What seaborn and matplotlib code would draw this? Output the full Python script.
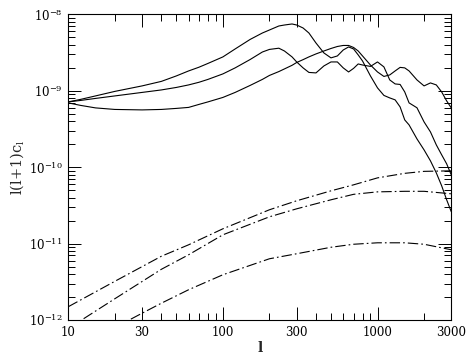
import numpy as np
import pandas as pd
import matplotlib
matplotlib.use("Agg")
import matplotlib.pyplot as plt
import matplotlib.ticker as mticker
import seaborn as sns

# multipoles shared by the solid curves
ell = [10, 12, 15, 20, 30, 40, 50, 60, 70, 80, 100, 120, 150, 180, 200, 230, 250, 280,
       300, 330, 360, 400, 450, 500, 550, 600, 650, 700, 750, 800, 900, 1000, 1100,
       1200, 1300, 1400, 1500, 1600, 1800, 2000, 2200, 2400, 2600, 2800, 3000]

cl_a = [7.14e-10, 7.70e-10, 8.55e-10, 9.80e-10, 1.156e-9, 1.325e-9, 1.562e-9, 1.815e-9,
        2.03e-9, 2.275e-9, 2.77e-9, 3.52e-9, 4.69e-9, 5.69e-9, 6.23e-9, 7.03e-9,
        7.24e-9, 7.47e-9, 7.24e-9, 6.62e-9, 5.69e-9, 4.21e-9, 3.12e-9, 2.69e-9,
        2.85e-9, 3.41e-9, 3.74e-9, 3.52e-9, 2.94e-9, 2.45e-9, 1.562e-9, 1.089e-9,
        8.68e-10, 8.05e-10, 7.59e-10, 6.14e-10, 4.15e-10, 3.57e-10, 2.34e-10,
        1.683e-10, 1.209e-10, 8.42e-11, 5.70e-11, 3.74e-11, 2.61e-11]

cl_b = [7.14e-10, 7.46e-10, 7.93e-10, 8.55e-10, 9.50e-10, 1.024e-9, 1.104e-9, 1.191e-9,
        1.29e-9, 1.406e-9, 1.66e-9, 1.99e-9, 2.56e-9, 3.21e-9, 3.47e-9, 3.60e-9,
        3.31e-9, 2.77e-9, 2.38e-9, 1.99e-9, 1.735e-9, 1.71e-9, 2.11e-9, 2.38e-9,
        2.38e-9, 1.99e-9, 1.76e-9, 1.96e-9, 2.24e-9, 2.17e-9, 2.08e-9, 2.38e-9,
        2.05e-9, 1.384e-9, 1.227e-9, 1.208e-9, 9.64e-10, 6.93e-10, 5.98e-10,
        3.91e-10, 2.89e-10, 1.957e-10, 1.449e-10, 1.105e-10, 7.92e-11]

cl_c = [6.93e-10, 6.43e-10, 5.96e-10, 5.69e-10, 5.61e-10, 5.69e-10, 5.87e-10, 6.05e-10,
        6.62e-10, 7.14e-10, 8.17e-10, 9.50e-10, 1.173e-9, 1.406e-9, 1.585e-9, 1.78e-9,
        1.928e-9, 2.15e-9, 2.34e-9, 2.55e-9, 2.77e-9, 3.03e-9, 3.31e-9, 3.57e-9,
        3.79e-9, 3.91e-9, 3.91e-9, 3.68e-9, 3.31e-9, 2.85e-9, 2.17e-9, 1.76e-9,
        1.538e-9, 1.609e-9, 1.815e-9, 2.02e-9, 1.99e-9, 1.815e-9, 1.384e-9,
        1.156e-9, 1.265e-9, 1.191e-9, 9.64e-10, 7.36e-10, 5.96e-10]

# dash-dot curves
ell_d = [10, 20, 40, 60, 100, 200, 300, 500, 700, 1000, 1500, 2000, 3000]
cl_d1 = [1.493e-12, 3.21e-12, 6.83e-12, 9.64e-12, 1.562e-11, 2.77e-11, 3.63e-11,
         4.90e-11, 5.87e-11, 7.24e-11, 8.30e-11, 8.81e-11, 8.95e-11]
cl_d2 = [7.74e-13, 1.898e-12, 4.61e-12, 7.14e-12, 1.303e-11, 2.24e-11, 2.85e-11,
         3.74e-11, 4.41e-11, 4.75e-11, 4.83e-11, 4.83e-11, 4.48e-11]
ell_d3 = [20, 25, 30, 40, 60, 100, 200, 300, 500, 700, 1000, 1500, 2000, 3000]
cl_d3 = [7.93e-13, 1.01e-12, 1.227e-12, 1.66e-12, 2.49e-12, 3.91e-12, 6.33e-12,
         7.36e-12, 8.95e-12, 9.80e-12, 1.024e-11, 1.024e-11, 9.80e-12, 8.30e-12]

x_ticks = [10, 30, 100, 300, 1000, 3000]

sns.set_theme(style="ticks")
plt.rcParams['font.family'] = ['DejaVu Serif']
plt.rcParams['mathtext.fontset'] = 'dejavuserif'
plt.rcParams['lines.scale_dashes'] = False

fig = plt.figure(figsize=(4.72, 3.59), dpi=100)
ax = fig.add_axes([0.1447, 0.1086, 0.8114, 0.8516])

for y in [cl_a, cl_b, cl_c]:
    sns.lineplot(x=ell, y=y, ax=ax, color='black', linewidth=0.8)

dashdot = (0, (7.5, 2.2, 1.2, 2.2))
sns.lineplot(x=ell_d, y=cl_d1, ax=ax, color='black', linewidth=0.8, linestyle=dashdot)
sns.lineplot(x=ell_d, y=cl_d2, ax=ax, color='black', linewidth=0.8, linestyle=dashdot)
sns.lineplot(x=ell_d3, y=cl_d3, ax=ax, color='black', linewidth=0.8, linestyle=dashdot)

ax.set_xscale('log')
ax.set_yscale('log')
ax.set_xlim(10, 3000)
ax.set_ylim(1e-12, 1e-8)

ax.xaxis.set_major_locator(mticker.FixedLocator(x_ticks))
ax.xaxis.set_major_formatter(mticker.FixedFormatter([str(t) for t in x_ticks]))
ax.xaxis.set_minor_locator(mticker.LogLocator(base=10, subs=np.arange(2, 10)))
ax.xaxis.set_minor_formatter(mticker.NullFormatter())
ax.yaxis.set_major_locator(mticker.LogLocator(base=10, numticks=10))
ax.yaxis.set_minor_locator(mticker.LogLocator(base=10, subs=np.arange(2, 10), numticks=10))
ax.yaxis.set_minor_formatter(mticker.NullFormatter())

ax.tick_params(which='both', direction='in', top=True, right=True, width=0.7,
               colors='black', labelsize=8.5)
ax.tick_params(which='major', length=9.4, pad=4)
ax.tick_params(which='minor', length=5)
for s in ax.spines.values():
    s.set_linewidth(0.8)
    s.set_color('black')

ax.set_xlabel('l', fontsize=10, fontweight='bold', labelpad=2)
ax.set_ylabel(r'l(l+1)c$_{\rm l}$', fontsize=10.5, labelpad=2)

fig.savefig('out.png', dpi=100)
